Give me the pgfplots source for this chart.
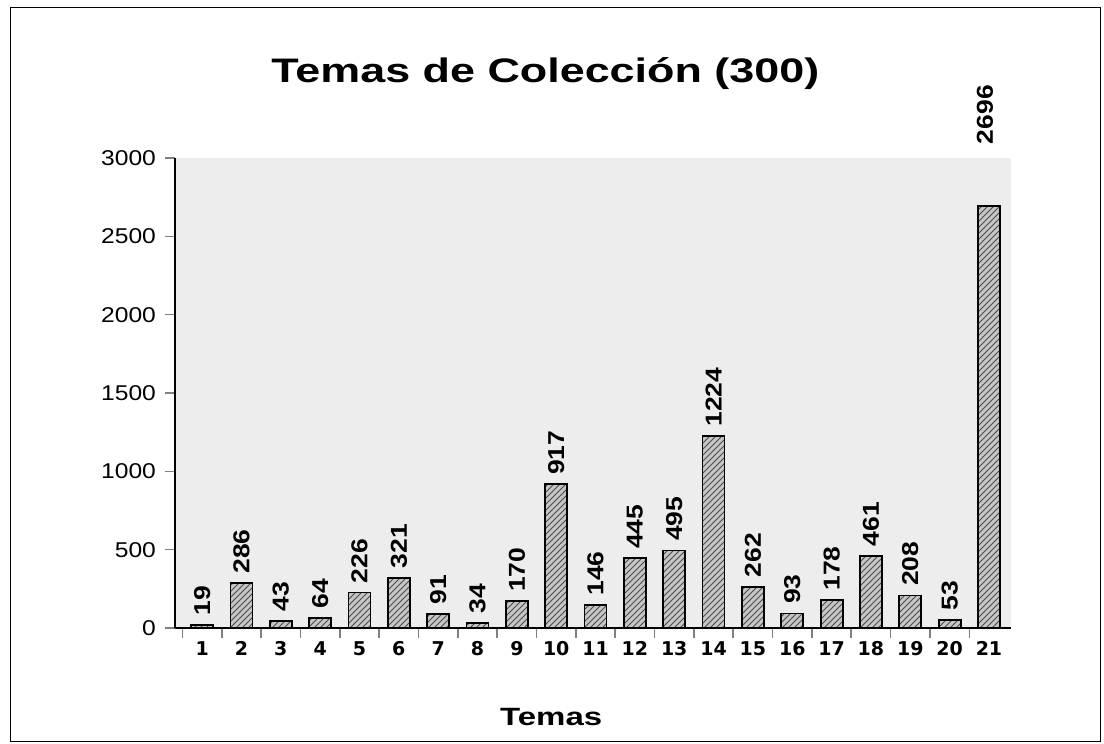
\documentclass[border=0pt]{standalone}
\usepackage{pgfplots}
\pgfplotsset{compat=1.18}
\usepackage{fontspec}
\setmainfont{Liberation Sans}
\newfontfamily\wide[FakeStretch=1.32]{Liberation Sans}
\newfontfamily\wider[FakeStretch=1.15]{Liberation Sans}
\newfontfamily\verd{DejaVu Sans}
\usetikzlibrary{patterns}
\pgfplotstableread{
x y
1 19
2 286
3 43
4 64
5 226
6 321
7 91
8 34
9 170
10 917
11 146
12 445
13 495
14 1224
15 262
16 93
17 178
18 461
19 208
20 53
}\datatable
\pgfplotstableread{
x y
21 2696
}\datatablelast
\begin{document}
\begin{tikzpicture}[x=1pt,y=1pt]
\fill[white] (0,0) rectangle (552,372);
\draw[line width=0.5pt] (5,1) rectangle (550,368);
\begin{axis}[
  at={(87.5pt,58pt)}, anchor=south west,
  scale only axis, width=418pt, height=235pt,
  xmin=0.31, xmax=21.56, ymin=0, ymax=3000,
  axis background/.style={fill=gray!14},
  axis x line*=bottom, axis y line*=left,
  axis line style={line width=0.8pt},
  xtick={1,...,21}, major x tick style={draw=none},
  minor xtick={0.5,1.5,...,20.5},
  minor x tick style={line width=0.8pt},
  tick align=outside, minor tick length=5pt,
  ytick={0,500,...,3000}, major tick length=5pt,
  ytick style={line width=0.8pt},
  /pgf/number format/assume math mode=true,
  /pgf/number format/1000 sep={},
  yticklabel style={font=\wider\fontsize{10.7}{13}\selectfont, xshift=-1pt},
  xticklabel style={font=\verd\fontsize{9.5}{11}\selectfont\bfseries, text height=7pt, text depth=0pt, anchor=north, yshift=2pt},
  title={Temas de Colección (300)},
  title style={font=\wide\fontsize{17}{19}\selectfont\bfseries, at={(axis description cs:0.443,1.155)}, anchor=center},
  xlabel={Temas},
  xlabel style={font=\wide\fontsize{12.5}{15}\selectfont\bfseries, at={(axis description cs:0.45,-0.19)}, anchor=center},
  clip=false,
  every node near coord/.append style={rotate=90, anchor=west, font=\wider\fontsize{11.5}{13}\selectfont\bfseries},
]
\addplot[ybar, bar shift=0pt, bar width=11pt, draw=black, line width=0.9pt, fill=gray!45,
  postaction={pattern=north east lines, pattern color=black!70},
  nodes near coords,
  every node near coord/.append style={xshift=1pt}
] table[x=x,y=y] {\datatable};
\addplot[ybar, bar shift=0pt, bar width=11pt, draw=black, line width=0.9pt, fill=gray!45,
  postaction={pattern=north east lines, pattern color=black!70},
  nodes near coords,
  every node near coord/.append style={xshift=27pt, yshift=2pt}
] table[x=x,y=y] {\datatablelast};
\end{axis}
\end{tikzpicture}
\end{document}
